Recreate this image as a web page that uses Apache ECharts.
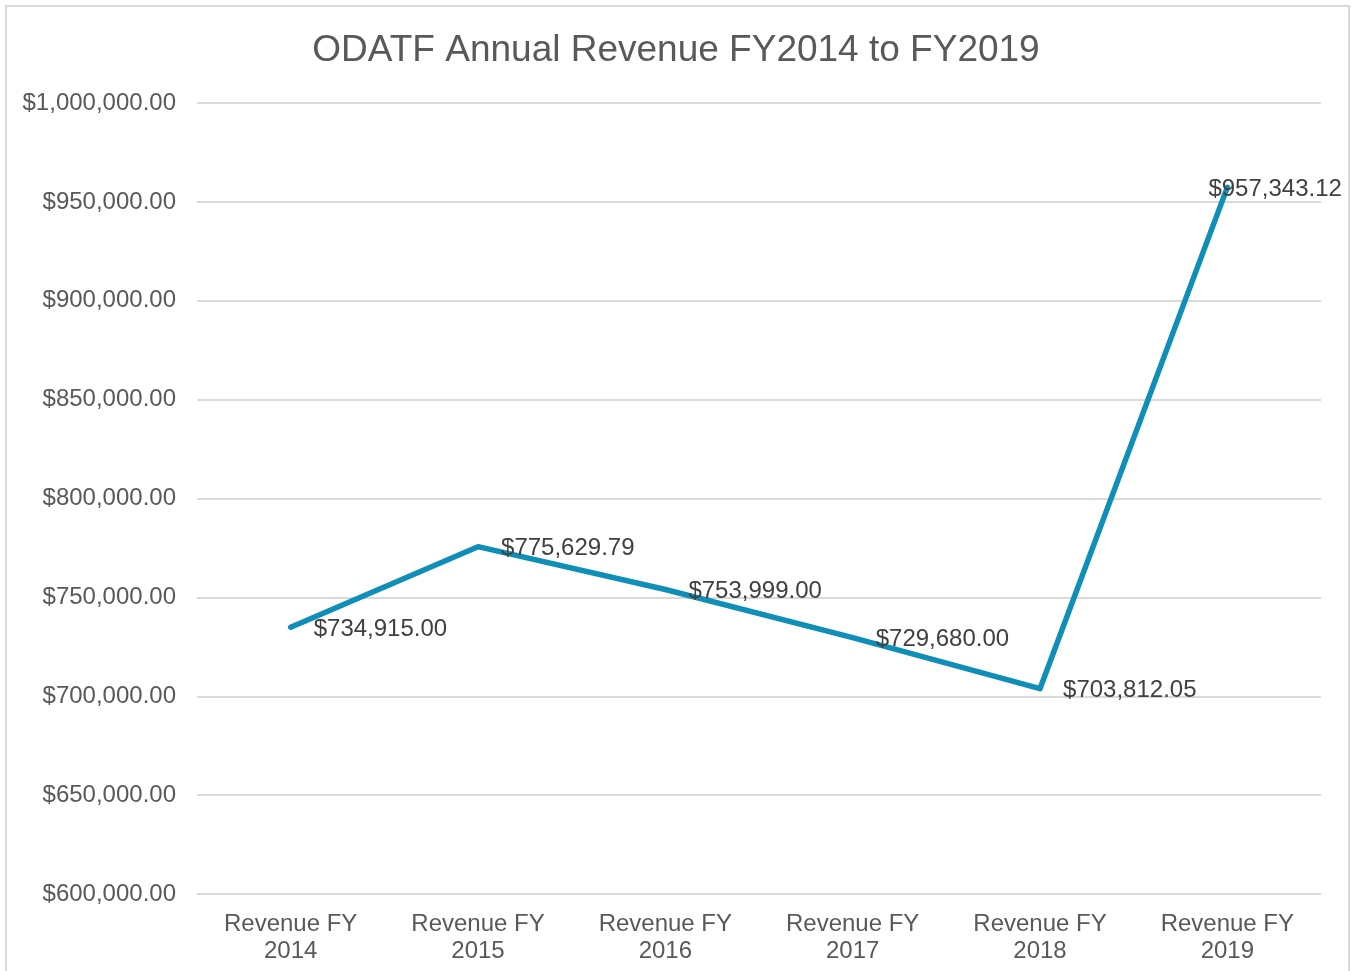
<!DOCTYPE html>
<html>
<head>
<meta charset="utf-8">
<script src="https://cdn.jsdelivr.net/npm/echarts@6/dist/echarts.min.js"></script>
<style>
    html, body { margin: 0; padding: 0; background: #fff; }
    #chart { width: 1352px; height: 971px; }
</style>
</head>
<body>
<div id="chart"></div>
<script>
// 年度收入数据
var categories = ['Revenue FY\n2014', 'Revenue FY\n2015', 'Revenue FY\n2016',
    'Revenue FY\n2017', 'Revenue FY\n2018', 'Revenue FY\n2019'];
var revenue = [734915.00, 775629.79, 753999.00, 729680.00, 703812.05, 957343.12];

function money(v) {
    return '$' + Number(v).toLocaleString('en-US', {minimumFractionDigits: 2, maximumFractionDigits: 2});
}

var mychart = echarts.init(document.getElementById('chart'));
var option = {
    animation: false,
    textStyle: { fontFamily: 'Liberation Sans, Arial, sans-serif' },
    graphic: [{
        type: 'rect',
        shape: { x: 6, y: 6, width: 1343, height: 975 },
        style: { fill: null, stroke: '#d9d9d9', lineWidth: 2 },
        silent: true
    }],
    title: {
        text: 'ODATF Annual Revenue FY2014 to FY2019',
        left: 'center',
        top: 27,
        textStyle: { color: '#595959', fontSize: 37, fontWeight: 'normal' }
    },
    grid: { left: 197, right: 31, top: 103, bottom: 77 },
    xAxis: {
        type: 'category',
        data: categories,
        boundaryGap: true,
        axisLine: { show: false },
        axisTick: { show: false },
        axisLabel: { color: '#595959', fontSize: 24, lineHeight: 27, margin: 17 }
    },
    yAxis: {
        type: 'value',
        min: 600000,
        max: 1000000,
        interval: 50000,
        axisLine: { show: false },
        axisTick: { show: false },
        splitLine: { lineStyle: { color: '#d9d9d9', width: 2 } },
        axisLabel: { color: '#595959', fontSize: 24, margin: 21, formatter: money }
    },
    series: [{
        type: 'line',
        data: revenue.map(function (v, i) {
            var item = { value: v };
            // 最后一个标签挤回图内
            if (i === revenue.length - 1) {
                item.label = { offset: [-42, 2] };
            }
            return item;
        }),
        symbol: 'circle',
        symbolSize: 0.1,
        showSymbol: true,
        lineStyle: { color: '#0f8fb8', width: 5.5, cap: 'round', join: 'round' },
        itemStyle: { color: '#0f8fb8' },
        label: {
            show: true,
            position: 'right',
            distance: 23,
            offset: [0, 2],
            color: '#404040',
            fontSize: 24,
            formatter: function (p) { return money(p.value); }
        }
    }]
};
mychart.setOption(option);
</script>
</body>
</html>
